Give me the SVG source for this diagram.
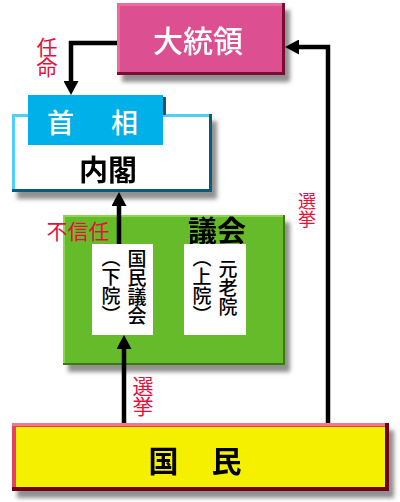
<svg xmlns="http://www.w3.org/2000/svg" width="400" height="502" viewBox="0 0 400 502">
<style>
text{font-family:"Noto Sans CJK JP","Noto Sans CJK SC",sans-serif;dominant-baseline:central;text-anchor:middle}
.w{fill:#ffffff}
.k{fill:#000000;font-weight:bold}
.r{fill:#e3103c}
.rv{fill:#e3103c;writing-mode:vertical-rl;text-anchor:start;letter-spacing:-0.5px}
.v{writing-mode:vertical-rl;text-anchor:start;font-size:19px;fill:#000000;font-weight:500}
.ln{fill:none;stroke:#000000;stroke-width:4.5;marker-end:url(#ah)}
</style>
<defs>
<filter id="sh" x="-10%" y="-10%" width="130%" height="140%">
<feGaussianBlur in="SourceAlpha" stdDeviation="2"/>
<feOffset dx="5" dy="7" result="b"/>
<feFlood flood-color="#606060" flood-opacity="0.7"/>
<feComposite in2="b" operator="in" result="s"/>
<feMerge><feMergeNode in="s"/><feMergeNode in="SourceGraphic"/></feMerge>
</filter>
<marker id="ah" viewBox="0 0 14 15" refX="7" refY="7.5" markerWidth="14" markerHeight="15" markerUnits="userSpaceOnUse" orient="auto">
<path d="M0,0 L14,7.5 L0,15 z" fill="#000000"/>
</marker>
</defs>

<g id="daitouryou" filter="url(#sh)">
<rect x="117" y="3" width="168" height="72" fill="#7a0a30"/>
<rect x="117" y="3" width="165" height="69" fill="#f06a98"/>
<rect x="120" y="6" width="162" height="66" fill="#dc5090"/>
<text class="w" x="198" y="39" font-size="30" font-weight="500">大統領</text>
</g>

<g id="naikaku" filter="url(#sh)">
<rect x="12" y="114" width="200" height="78" fill="#0a5a78"/>
<rect x="12" y="114" width="197" height="75" fill="#50d0f8"/>
<rect x="15" y="117" width="194" height="72" fill="#ffffff"/>
<text class="k" x="108" y="167.5" font-size="29">内閣</text>
</g>

<g id="shushou">
<rect x="28" y="95" width="135" height="50" fill="#00b0e8"/>
<rect x="163" y="97" width="3" height="18" fill="#2a5060"/>
<text class="w" x="60.5" y="121.5" font-size="27" font-weight="500">首</text>
<text class="w" x="124.5" y="121.5" font-size="27" font-weight="500">相</text>
</g>

<g id="gikai" filter="url(#sh)">
<rect x="63" y="215" width="222" height="150" fill="#3a7a10"/>
<rect x="63" y="215" width="220" height="148" fill="#8ad84a"/>
<rect x="65" y="217" width="218" height="146" fill="#66bb2c"/>
<text class="k" x="217" y="229" font-size="29">議会</text>
</g>

<g id="kokumingikai">
<rect x="92" y="244" width="61" height="91" fill="#ffffff"/>
<text class="v" x="137" y="249">国民議会</text>
<text class="v" x="111" y="248">（下院）</text>
</g>

<g id="genrouin">
<rect x="184" y="244" width="62" height="91" fill="#ffffff"/>
<text class="v" x="228" y="259">元老院</text>
<text class="v" x="202" y="248">（上院）</text>
</g>

<g id="kokumin" filter="url(#sh)">
<rect x="12" y="423" width="377" height="68" fill="#700018"/>
<rect x="12" y="423" width="373" height="64" fill="#e84060"/>
<rect x="12" y="423" width="373" height="3" fill="#f07888"/>
<rect x="16" y="427" width="369" height="60" fill="#f5f000"/>
<text class="k" x="163.5" y="459" font-size="30">国</text>
<text class="k" x="226.5" y="459" font-size="30">民</text>
</g>

<g id="connectors">
<path class="ln" d="M117,43 H71 V88"/>
<path class="ln" d="M328,423 V47 H292"/>
<path class="ln" d="M119,244 V199"/>
<path class="ln" d="M124,423 V342"/>
</g>

<g id="labels">
<text class="rv" x="47" y="36.5" font-size="21">任命</text>
<text class="r" x="78" y="229.5" font-size="21">不信任</text>
<text class="rv" x="307" y="192.5" font-size="18">選挙</text>
<text class="rv" x="143" y="375.5" font-size="21">選挙</text>
</g>
</svg>
